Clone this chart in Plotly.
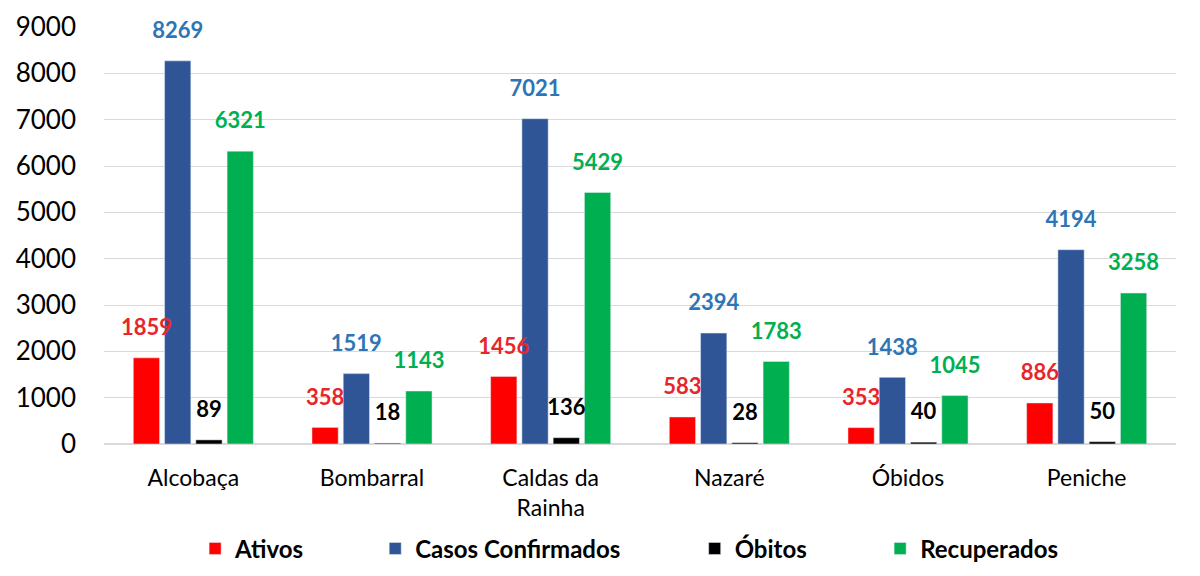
import plotly.graph_objects as go

concelhos = ['Alcobaça', 'Bombarral', 'Caldas da<br>Rainha', 'Nazaré', 'Óbidos', 'Peniche']
ativos = [1859, 358, 1456, 583, 353, 886]
confirmados = [8269, 1519, 7021, 2394, 1438, 4194]
obitos = [89, 18, 136, 28, 40, 50]
recuperados = [6321, 1143, 5429, 1783, 1045, 3258]

series = [
    ('Ativos', ativos, '#FF0000', '#E8262A'),
    ('Casos Confirmados', confirmados, '#2F5597', '#2E75B6'),
    ('Óbitos', obitos, '#000000', '#000000'),
    ('Recuperados', recuperados, '#00B050', '#00B050'),
]
legend_x = [0.085, 0.253, 0.551, 0.724]

fig = go.Figure()
for i, (name, vals, color, label_color) in enumerate(series):
    lg = 'legend' if i == 0 else 'legend%d' % (i + 1)
    fig.add_trace(go.Bar(
        x=concelhos, y=vals, name=name, marker=dict(color=color),
        offsetgroup=name, legend=lg,
    ))
    # labels floated above each bar
    fig.add_trace(go.Scatter(
        x=concelhos, y=vals, mode='markers+text', text=[str(v) for v in vals],
        textposition='top center', offsetgroup=name, showlegend=False,
        marker=dict(size=26, opacity=0), hoverinfo='skip', cliponaxis=False,
        textfont=dict(family='Lato', size=22, color=label_color, weight='bold'),
    ))

legends = {}
for i, lx in enumerate(legend_x):
    key = 'legend' if i == 0 else 'legend%d' % (i + 1)
    legends[key] = dict(orientation='h', x=lx, xanchor='left',
                        y=0.061, yref='container', yanchor='middle',
                        font=dict(size=24, weight='bold'), itemwidth=30,
                        bgcolor='rgba(0,0,0,0)')

fig.update_layout(
    barmode='group', scattermode='group',
    bargap=0.30, bargroupgap=0.16, scattergap=0.30,
    width=1200, height=576,
    plot_bgcolor='white', paper_bgcolor='white',
    margin=dict(l=96, r=32, t=19, b=140),
    font=dict(family='Lato', color='#000000'),
    yaxis=dict(range=[0, 9000], dtick=1000, showgrid=True, gridcolor='#D9D9D9',
               zeroline=True, zerolinecolor='#D9D9D9', tickfont=dict(size=26),
               ticks='', ticklen=0, automargin=False, ticklabelstandoff=27),
    xaxis=dict(tickfont=dict(size=23), showline=False, ticks='', automargin=False,
               ticklabelstandoff=18),
    **legends,
)

fig.write_html("out.html")
